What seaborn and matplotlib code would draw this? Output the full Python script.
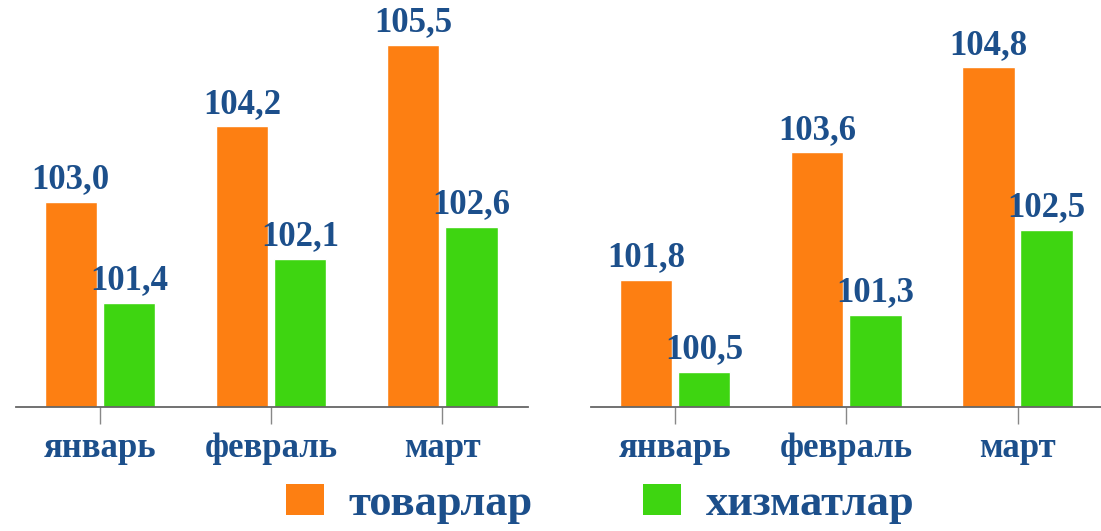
import matplotlib
matplotlib.use("Agg")
import matplotlib.pyplot as plt
from matplotlib.patches import Patch
import seaborn as sns
import pandas as pd

# данные
months = ["январь", "февраль", "март"]
series = ["товарлар", "хизматлар"]
left_goods = [103.0, 104.2, 105.5]
left_services = [101.4, 102.1, 102.6]
right_goods = [101.8, 103.6, 104.8]
right_services = [100.5, 101.3, 102.5]

colors = ["#fd7f12", "#3ed511"]
text_color = "#1c4f8b"


def make_df(goods, services):
    return pd.DataFrame({
        "month": months * 2,
        "type": [series[0]] * 3 + [series[1]] * 3,
        "value": goods + services,
    })


sns.set_style("white")
plt.rcParams["font.family"] = ["Liberation Serif", "DejaVu Serif"]
plt.rcParams["font.weight"] = "bold"

fig = plt.figure(figsize=(11.01, 5.31), dpi=100)
ax1 = fig.add_axes([0.0145, 0.2335, 0.465, 0.7665])
ax2 = fig.add_axes([0.537, 0.2335, 0.465, 0.7665])


def draw_panel(ax, df, ylim):
    sns.barplot(data=df, x="month", y="value", hue="type",
                palette=colors, width=0.68, gap=0.1,
                saturation=1, legend=False, ax=ax)
    for cont in ax.containers:
        ax.bar_label(cont,
                     labels=[f"{b.get_height():.1f}".replace(".", ",") for b in cont],
                     padding=4, fontsize=25, fontweight="bold",
                     color=text_color)
    ax.set_ylim(*ylim)
    ax.set_xlim(-0.49, 2.5)
    ax.set_xlabel("")
    ax.set_ylabel("")
    ax.set_yticks([])
    for s in ["top", "right", "left"]:
        ax.spines[s].set_visible(False)
    ax.spines["bottom"].set_color("#666666")
    ax.spines["bottom"].set_linewidth(1.3)
    ax.tick_params(axis="x", direction="out", length=12, width=1.0,
                   color="#888888", pad=6, labelsize=25,
                   labelcolor=text_color, bottom=True)
    for t in ax.get_xticklabels():
        t.set_fontweight("bold")


draw_panel(ax1, make_df(left_goods, left_services), (99.74, 106.21))
draw_panel(ax2, make_df(right_goods, right_services), (100.0, 105.75))

handles = [Patch(facecolor=c, edgecolor="none") for c in colors]
leg = fig.legend(handles, series, loc="lower center", ncol=2,
                 bbox_to_anchor=(0.545, -0.062), frameon=False,
                 prop={"size": 32, "weight": "bold"},
                 handlelength=0.85, handleheight=0.7,
                 handletextpad=0.55, columnspacing=2.5)
for t in leg.get_texts():
    t.set_color(text_color)

fig.savefig("out.png", dpi=100)
